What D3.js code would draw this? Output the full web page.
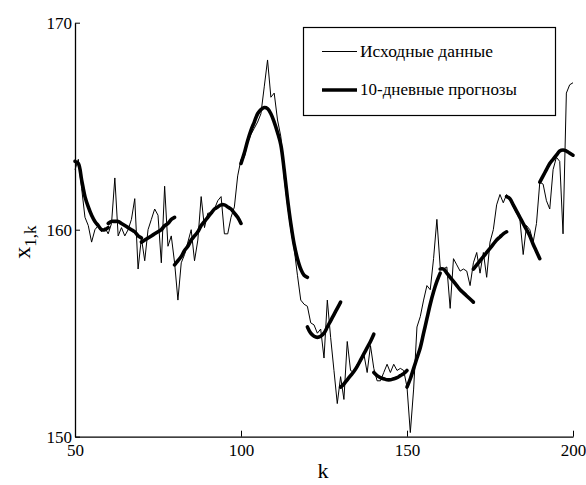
<!DOCTYPE html>
<html>
<head>
<meta charset="utf-8">
<script src="https://cdn.jsdelivr.net/npm/d3@7"></script>
<style>
  html, body { margin: 0; padding: 0; background: #fff; }
  svg { display: block; }
  text { font-family: "Liberation Serif", "Times New Roman", serif; fill: #000; }
</style>
</head>
<body>
<svg id="chart" width="586" height="485"></svg>
<script>
// ---- data ----
const kStart = 50;
const rawValues = [
  162.9, 163.4, 162.0, 160.6, 160.2, 159.4, 160.0, 160.2, 159.9, 160.1,
  159.8, 160.3, 162.5, 159.7, 160.1, 159.7, 160.0, 160.5, 161.5, 158.1,
  159.6, 158.5, 160.0, 160.5, 161.0, 160.7, 158.4, 162.1, 159.2, 159.7,
  158.4, 156.6, 158.4, 158.8, 159.4, 160.0, 158.5, 159.5, 161.6, 160.1,
  160.8, 160.8, 161.0, 161.4, 161.6, 159.8, 159.8, 160.6, 161.1, 162.6,
  163.4, 163.5, 164.2, 164.6, 164.9, 165.2, 165.6, 166.9, 168.2, 166.4,
  166.6, 165.3, 164.5, 162.5, 161.2, 160.0, 159.1, 157.8, 156.6, 156.4,
  156.3, 155.5, 155.4, 155.0, 155.2, 153.8, 156.6, 154.8, 153.2, 151.6,
  152.9, 151.8, 154.6, 153.2, 153.1, 153.5, 153.6, 154.0, 153.1, 154.4,
  153.3, 152.7, 152.7, 153.1, 153.5, 153.1, 153.5, 153.2, 153.3, 153.2,
  152.4, 150.2, 152.3, 155.3, 155.8, 156.6, 157.3, 157.1, 158.6, 160.5,
  158.2, 158.1, 158.2, 156.2, 158.6, 158.3, 158.0, 158.1, 158.0, 157.3,
  158.4, 158.9, 157.9, 158.9, 157.7, 159.4, 160.0, 161.2, 161.7, 161.3,
  161.7, 161.5, 161.1, 160.8, 160.5, 158.8, 160.2, 160.0, 159.4, 160.3,
  162.3, 162.2, 161.4, 161.0, 162.9, 163.5, 163.3, 159.8, 166.6, 167.0,
  167.1
];

const forecastStarts = [50, 60, 70, 80, 100, 120, 130, 140, 150, 160, 170, 180, 190];
const forecastValues = [
  [163.3, 163.2, 162.4, 161.6, 161.1, 160.7, 160.4, 160.2, 160.0, 160.0, 160.1],
  [160.3, 160.4, 160.4, 160.4, 160.3, 160.2, 160.1, 160.0, 159.9, 159.7, 159.6],
  [159.4, 159.5, 159.6, 159.7, 159.8, 159.9, 160.0, 160.2, 160.3, 160.5, 160.6],
  [158.3, 158.5, 158.7, 159.0, 159.2, 159.5, 159.7, 159.9, 160.2, 160.4, 160.6,
   160.8, 161.0, 161.1, 161.2, 161.2, 161.1, 161.0, 160.8, 160.6, 160.3],
  [163.2, 163.7, 164.3, 164.8, 165.2, 165.6, 165.8, 165.9, 165.85, 165.6, 165.2,
   164.7, 164.1, 162.9, 161.5, 160.3, 159.3, 158.6, 158.1, 157.8, 157.7],
  [155.3, 155.0, 154.85, 154.8, 154.85, 155.0, 155.3, 155.6, 155.9, 156.2, 156.5],
  [152.4, 152.55, 152.75, 152.95, 153.15, 153.4, 153.7, 154.0, 154.3, 154.6, 154.95],
  [153.1, 152.95, 152.85, 152.8, 152.75, 152.75, 152.8, 152.85, 152.95, 153.05, 153.2],
  [152.4, 152.8, 153.3, 153.8, 154.3, 155.0, 155.7, 156.4, 157.0, 157.5, 157.9],
  [158.1, 158.1, 157.9, 157.7, 157.5, 157.3, 157.1, 156.95, 156.8, 156.65, 156.5],
  [158.1, 158.3, 158.5, 158.7, 158.9, 159.1, 159.3, 159.5, 159.65, 159.8, 159.9],
  [161.6, 161.5, 161.2, 160.9, 160.6, 160.3, 160.0, 159.7, 159.3, 158.95, 158.6],
  [162.3, 162.6, 162.9, 163.2, 163.4, 163.6, 163.8, 163.85, 163.8, 163.7, 163.6]
];

const xTicks = [50, 100, 150, 200];
const yTicks = [150, 160, 170];
const legendLabels = ["Исходные данные", "10-дневные прогнозы"];
const xLabel = "k";

// ---- drawing ----
const svg = d3.select("#chart");
const x = d3.scaleLinear().domain([50, 200]).range([75, 573]);
const y = d3.scaleLinear().domain([150, 170]).range([436.7, 22.7]);

const line = d3.line().x(d => x(d[0])).y(d => y(d[1]));

// raw data
const raw = rawValues.map((v, i) => [kStart + i, v]);
svg.append("path")
  .datum(raw)
  .attr("d", line)
  .attr("fill", "none")
  .attr("stroke", "#000")
  .attr("stroke-width", 1)
  .attr("stroke-linejoin", "round");

// forecasts
forecastValues.forEach((vals, j) => {
  const pts = vals.map((v, i) => [forecastStarts[j] + i, v]);
  svg.append("path")
    .datum(pts)
    .attr("d", d3.line().curve(d3.curveCatmullRom).x(d => x(d[0])).y(d => y(d[1])))
    .attr("fill", "none")
    .attr("stroke", "#000")
    .attr("stroke-width", 3.6)
    .attr("stroke-linecap", "round");
});

// axes
const xAxis = svg.append("g")
  .attr("transform", `translate(0,${y(150)})`)
  .call(d3.axisBottom(x).tickValues(xTicks).tickSizeInner(-6).tickSizeOuter(0).tickPadding(7).tickFormat(d3.format("d")));
xAxis.select(".domain").attr("stroke", "#000").attr("stroke-width", 1.3);
xAxis.selectAll("text").attr("font-size", 17).attr("font-family", '"Liberation Serif", serif');

const yAxis = svg.append("g")
  .attr("transform", `translate(${x(50)},0)`)
  .call(d3.axisLeft(y).tickValues(yTicks).tickSizeInner(-5).tickSizeOuter(0).tickPadding(3).tickFormat(d3.format("d")));
yAxis.select(".domain").attr("stroke", "#000").attr("stroke-width", 1.3);
yAxis.selectAll("text").attr("font-size", 17).attr("font-family", '"Liberation Serif", serif');

// axis labels
svg.append("text")
  .attr("x", 323).attr("y", 478)
  .attr("text-anchor", "middle")
  .attr("font-size", 22)
  .text(xLabel);

const yl = svg.append("text")
  .attr("transform", "translate(30,242) rotate(-90)")
  .attr("text-anchor", "middle")
  .attr("font-size", 24);
yl.append("tspan").text("x");
yl.append("tspan").attr("font-size", 17).attr("dy", 6).text("1,k");

// legend
const lg = svg.append("g");
lg.append("rect")
  .attr("x", 303.5).attr("y", 27.5).attr("width", 252).attr("height", 88)
  .attr("fill", "#fff").attr("stroke", "#000").attr("stroke-width", 1.2);
const rowsY = [51.5, 90];
const widths = [133, 157];
legendLabels.forEach((lab, i) => {
  lg.append("line")
    .attr("x1", 322).attr("x2", 357)
    .attr("y1", rowsY[i]).attr("y2", rowsY[i])
    .attr("stroke", "#000")
    .attr("stroke-width", i === 0 ? 1 : 3.6);
  lg.append("text")
    .attr("x", 360).attr("y", rowsY[i] + 5)
    .attr("font-size", 16)
    .attr("textLength", widths[i])
    .attr("lengthAdjust", "spacingAndGlyphs")
    .text(lab);
});
</script>
</body>
</html>
